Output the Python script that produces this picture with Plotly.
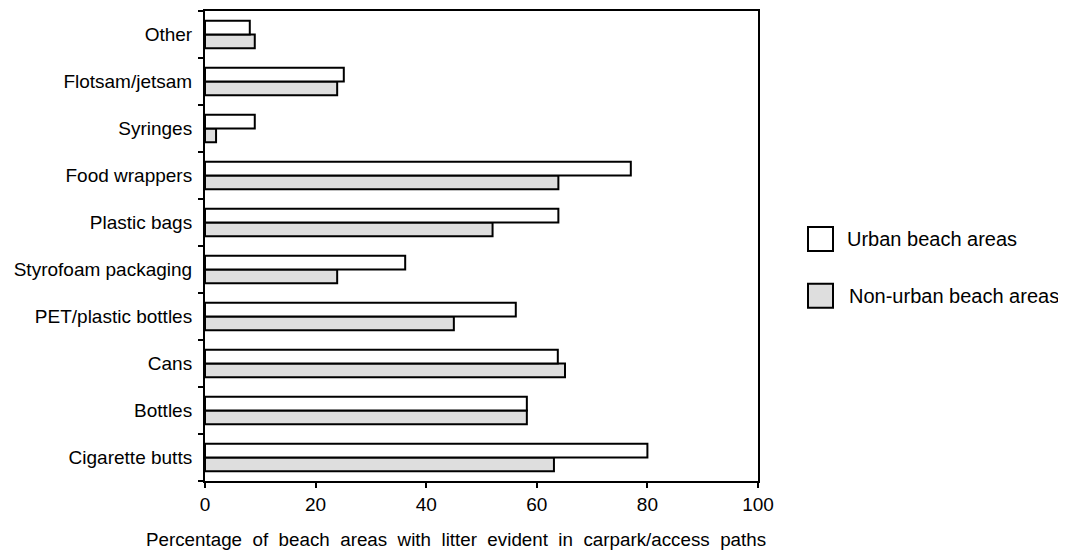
import plotly.graph_objects as go

categories = ["Cigarette butts", "Bottles", "Cans", "PET/plastic bottles",
              "Styrofoam packaging", "Plastic bags", "Food wrappers",
              "Syringes", "Flotsam/jetsam", "Other"]
urban = [80.0, 58.2, 63.8, 56.2, 36.2, 63.9, 77.0, 9.0, 25.1, 8.1]
non_urban = [63.1, 58.2, 65.1, 45.0, 23.9, 52.0, 63.9, 2.0, 23.9, 9.0]
x_ticks = [0, 20, 40, 60, 80, 100]
series_names = ["Urban beach areas", "Non-urban beach areas"]

FONT = "Liberation Sans, Arial, Helvetica, sans-serif"
GRAY = "#dedede"

# page body has an 8px margin; compensate so the plot box lands at
# x 205..758, y 9..481 in the 1066x556 window
OFF = 8
W, H = 1066 - OFF, 556 - OFF

fig = go.Figure()
fig.add_trace(go.Bar(y=categories, x=non_urban, orientation="h", name=series_names[1],
                     marker=dict(color=GRAY, line=dict(color="black", width=2)),
                     showlegend=False))
fig.add_trace(go.Bar(y=categories, x=urban, orientation="h", name=series_names[0],
                     marker=dict(color="white", line=dict(color="black", width=2)),
                     showlegend=False))

fig.update_layout(
    width=W, height=H,
    margin=dict(l=205 - OFF, r=1066 - 758, t=9 - OFF, b=556 - 481),
    paper_bgcolor="white", plot_bgcolor="white",
    barmode="group", bargap=0.41, bargroupgap=0,
    font=dict(family=FONT, size=19, color="black"),
)
fig.update_xaxes(range=[0, 100], tickvals=x_ticks, ticks="outside", ticklen=5,
                 tickwidth=1.5, tickcolor="black", showline=True, linewidth=2,
                 linecolor="black", mirror=True, showgrid=False, zeroline=False,
                 tickfont=dict(size=19))
fig.update_yaxes(categoryorder="array", categoryarray=categories,
                 ticks="outside", ticklen=5, tickwidth=1.5, tickcolor="black",
                 tickson="boundaries", showline=True, linewidth=2,
                 linecolor="black", mirror=True, showgrid=False,
                 tickfont=dict(size=19), ticklabelstandoff=7)


def px_x(px):
    return (px - 205) / (758 - 205)


def px_y(py):
    return (481 - py) / (481 - 9)


nb = "\u00a0"
title_words = "Percentage of beach areas with litter evident in carpark/access paths".split(" ")
fig.add_annotation(xref="paper", yref="paper", x=px_x(456), y=px_y(540),
                   text=(nb * 2).join(title_words), showarrow=False,
                   xanchor="center", yanchor="middle", font=dict(size=18.8))

legend_items = [(series_names[0], "white", 226, 250, 845),
                (series_names[1], GRAY, 283, 307, 847)]
for name, col, y0, y1, tx in legend_items:
    fig.add_shape(type="rect", xref="paper", yref="paper",
                  x0=px_x(808), x1=px_x(833), y0=px_y(y1), y1=px_y(y0),
                  fillcolor=col, line=dict(color="black", width=2))
    fig.add_annotation(xref="paper", yref="paper", x=px_x(tx), y=px_y((y0 + y1) / 2),
                       text=name, showarrow=False, xanchor="left", yanchor="middle",
                       font=dict(size=20))

fig.write_html("out.html")
